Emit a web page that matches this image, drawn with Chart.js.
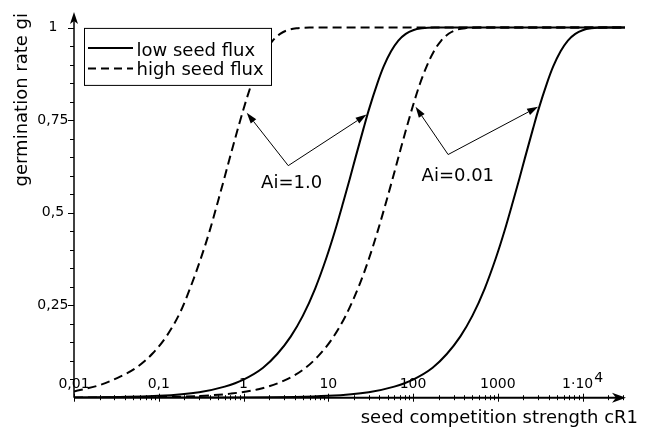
<!DOCTYPE html>
<html lang="en">
<head>
<meta charset="UTF-8">
<title>Germination rate vs seed competition strength</title>
<script src="https://cdn.jsdelivr.net/npm/chart.js"></script>
<style>
  body { margin: 0; background: #fff; }
  #wrap { width: 650px; height: 430px; }
</style>
</head>
<body>
<div id="wrap"><canvas id="germChart" width="650" height="430"></canvas></div>
<script>
// values: x = seed competition strength cR1, y = germination rate gi
const lowAi1X  = [0.01, 0.1, 0.3, 0.6, 1.0, 1.7, 2.5, 3.6, 5, 7, 9.5, 12, 15, 18, 21, 26, 30, 38, 45, 55, 67, 82, 100, 127, 180, 31623];
const lowAi1Y  = [0.0005, 0.005, 0.015, 0.03, 0.049, 0.081, 0.118, 0.165, 0.221, 0.295, 0.378, 0.451, 0.528, 0.593, 0.65, 0.727, 0.777, 0.85, 0.895, 0.936, 0.965, 0.983, 0.993, 0.998, 1.0, 1.0];

const highAi1X = [0.01, 0.02, 0.035, 0.055, 0.085, 0.125, 0.18, 0.24, 0.31, 0.40, 0.5, 0.6, 0.7, 0.85, 1.0, 1.25, 1.5, 1.8, 2.2, 2.7, 3.3, 4.2, 6, 31623];
const highAi1Y = [0.017, 0.034, 0.057, 0.082, 0.12, 0.168, 0.232, 0.302, 0.373, 0.452, 0.531, 0.597, 0.654, 0.724, 0.78, 0.85, 0.897, 0.935, 0.964, 0.983, 0.993, 0.998, 1.0, 1.0];

const lowAi001X  = [0.01, 1, 10, 30, 60, 100, 170, 250, 360, 500, 700, 950, 1200, 1500, 1800, 2100, 2600, 3000, 3800, 4500, 5500, 6700, 8200, 10000, 12700, 18000, 31623];
const lowAi001Y  = [0.0, 0.0005, 0.005, 0.015, 0.03, 0.049, 0.081, 0.118, 0.165, 0.221, 0.295, 0.378, 0.451, 0.528, 0.593, 0.65, 0.727, 0.777, 0.85, 0.895, 0.936, 0.965, 0.983, 0.993, 0.998, 1.0, 1.0];

const highAi001X = [0.01, 0.1, 0.3, 0.7, 1.5, 3, 5, 7.5, 11, 16, 23, 30, 38, 46, 56, 68, 82, 100, 120, 145, 175, 215, 265, 325, 420, 600, 31623];
const highAi001Y = [0.0002, 0.0016, 0.0047, 0.011, 0.023, 0.046, 0.075, 0.111, 0.158, 0.221, 0.302, 0.374, 0.448, 0.513, 0.583, 0.654, 0.722, 0.79, 0.847, 0.896, 0.935, 0.965, 0.984, 0.994, 0.9986, 1.0, 1.0];

const seriesLabels = ['low seed flux', 'high seed flux'];

const xTickValues = [0.01, 0.1, 1, 10, 100, 1000, 10000];
const xTickLabels = ['0,01', '0,1', '1', '10', '100', '1000', '1·10⁴'];
const yTickValues = [0.25, 0.5, 0.75, 1];
const yTickLabels = ['0,25', '0,5', '0,75', '1'];

const xTitle = 'seed competition strength cR1';
const yTitle = 'germination rate gi';

// arrows pointing at the curves, in data coordinates
const annotations = [
  { text: 'Ai=1.0',  textAt: [3.69, 0.58], from: [3.37, 0.627], tips: [[1.09, 0.77], [28.3, 0.765]] },
  { text: 'Ai=0.01', textAt: [337, 0.599], from: [259, 0.657], tips: [[107, 0.786], [2985, 0.786]] }
];

const X_MIN = 0.01, X_MAX = 31623, Y_MAX = 1.037;
const FONT = "'DejaVu Sans', sans-serif";
const SUPERS = '⁰¹²³⁴⁵⁶⁷⁸⁹';

// minor tick positions (1..9 x each decade, every 0.05 on y)
const xMarks = [];
for (let e = -2; e <= 4; e++) {
  for (let k = 1; k <= 9; k++) {
    const v = k * Math.pow(10, e);
    if (v <= X_MAX) xMarks.push({ value: v, major: k === 1 });
  }
}
const yMarks = [];
for (let i = 1; i <= 20; i++) yMarks.push({ value: i * 0.05, major: i % 5 === 0 });

function pts(xs, ys) { return xs.map((x, i) => ({ x: x, y: ys[i] })); }

function findLabel(v, values, labels) {
  for (let i = 0; i < values.length; i++) {
    if (Math.abs(v / values[i] - 1) < 1e-6) return labels[i];
  }
  return '';
}

// draws "1·10⁴" as base text plus a raised exponent, centred on cx
function drawTickLabel(ctx, label, cx, cy) {
  let base = label, sup = '';
  while (base.length && SUPERS.indexOf(base[base.length - 1]) >= 0) {
    sup = String(SUPERS.indexOf(base[base.length - 1])) + sup;
    base = base.slice(0, -1);
  }
  ctx.font = '14px ' + FONT;
  const wb = ctx.measureText(base).width;
  const ws = sup ? ctx.measureText(sup).width + 1 : 0;
  const left = cx - (wb + ws) / 2;
  ctx.textAlign = 'left'; ctx.textBaseline = 'middle';
  ctx.fillText(base, left, cy);
  if (sup) ctx.fillText(sup, left + wb + 1, cy - 6);
}

function arrowTo(ctx, x1, y1, x2, y2, len, half) {
  const a = Math.atan2(y2 - y1, x2 - x1);
  const bx = x2 - len * Math.cos(a), by = y2 - len * Math.sin(a);
  ctx.beginPath(); ctx.moveTo(x1, y1); ctx.lineTo(bx, by); ctx.stroke();
  ctx.beginPath();
  ctx.moveTo(x2, y2);
  ctx.lineTo(bx + half * Math.sin(a), by - half * Math.cos(a));
  ctx.lineTo(bx - half * Math.sin(a), by + half * Math.cos(a));
  ctx.closePath(); ctx.fill();
}

const figureDecor = {
  id: 'figureDecor',
  beforeDatasetsDraw(chart) {
    const ctx = chart.ctx, ca = chart.chartArea;
    const sx = chart.scales.x, sy = chart.scales.y;
    const x0 = ca.left, y0 = ca.bottom;
    ctx.save();
    ctx.strokeStyle = '#000'; ctx.fillStyle = '#000';

    // x axis with arrow
    ctx.lineWidth = 2;
    ctx.beginPath(); ctx.moveTo(x0, y0); ctx.lineTo(ca.right - 8, y0); ctx.stroke();
    ctx.beginPath();
    ctx.moveTo(ca.right + 1, y0);
    ctx.lineTo(ca.right - 13, y0 - 5);
    ctx.lineTo(ca.right - 9, y0);
    ctx.lineTo(ca.right - 13, y0 + 5);
    ctx.closePath(); ctx.fill();

    // y axis with arrow
    ctx.lineWidth = 1.5;
    ctx.beginPath(); ctx.moveTo(x0, y0); ctx.lineTo(x0, ca.top + 6); ctx.stroke();
    ctx.beginPath();
    ctx.moveTo(x0, ca.top - 2);
    ctx.lineTo(x0 - 4, ca.top + 10);
    ctx.lineTo(x0, ca.top + 7);
    ctx.lineTo(x0 + 4, ca.top + 10);
    ctx.closePath(); ctx.fill();

    // tick marks
    ctx.lineWidth = 1;
    xMarks.forEach(m => {
      const px = Math.round(sx.getPixelForValue(m.value)) + 0.5;
      const h = m.major ? 4 : 2.5;
      ctx.beginPath(); ctx.moveTo(px, y0 - h); ctx.lineTo(px, y0 + h); ctx.stroke();
    });
    yMarks.forEach(m => {
      const py = Math.round(sy.getPixelForValue(m.value)) + 0.5;
      const w = m.major ? 6 : 4;
      ctx.beginPath(); ctx.moveTo(x0 - w, py); ctx.lineTo(x0, py); ctx.stroke();
    });

    // x tick labels sit just above the axis, inside the plot
    xTickValues.forEach((v, i) => {
      drawTickLabel(ctx, xTickLabels[i], sx.getPixelForValue(v), y0 - 13.5);
    });
    ctx.restore();
  },
  afterDatasetsDraw(chart) {
    const ctx = chart.ctx, ca = chart.chartArea;
    const sx = chart.scales.x, sy = chart.scales.y;
    ctx.save();
    ctx.strokeStyle = '#000'; ctx.fillStyle = '#000';

    // legend box (opaque, covers the curve behind it)
    const bx = ca.left + 10.5, by = ca.top + 14.5;
    ctx.fillStyle = '#fff';
    ctx.fillRect(bx, by, 187, 57);
    ctx.fillStyle = '#000';
    ctx.lineWidth = 1;
    ctx.strokeRect(bx, by, 187, 57);
    ctx.lineWidth = 2;
    ctx.beginPath(); ctx.moveTo(bx + 3.5, by + 19.5); ctx.lineTo(bx + 48.5, by + 19.5); ctx.stroke();
    ctx.setLineDash([8, 5]);
    ctx.beginPath(); ctx.moveTo(bx + 3.5, by + 40); ctx.lineTo(bx + 48.5, by + 40); ctx.stroke();
    ctx.setLineDash([]);
    ctx.font = '18px ' + FONT;
    ctx.textAlign = 'left'; ctx.textBaseline = 'alphabetic';
    ctx.fillText(seriesLabels[0], bx + 52, by + 28);
    ctx.fillText(seriesLabels[1], bx + 52, by + 46.5);

    // annotation arrows
    ctx.lineWidth = 1;
    annotations.forEach(a => {
      const fx = sx.getPixelForValue(a.from[0]), fy = sy.getPixelForValue(a.from[1]);
      a.tips.forEach(t => {
        arrowTo(ctx, fx, fy, sx.getPixelForValue(t[0]), sy.getPixelForValue(t[1]), 11, 3.5);
      });
      ctx.textAlign = 'center'; ctx.textBaseline = 'middle';
      ctx.fillText(a.text, sx.getPixelForValue(a.textAt[0]), sy.getPixelForValue(a.textAt[1]));
    });

    // axis titles
    ctx.textAlign = 'right'; ctx.textBaseline = 'alphabetic';
    ctx.fillText(xTitle, 638, 423);
    ctx.translate(22, 13);
    ctx.rotate(-Math.PI / 2);
    ctx.textBaseline = 'middle';
    ctx.fillText(yTitle, 0, 0);
    ctx.restore();
  }
};

Chart.defaults.font.family = FONT;
Chart.defaults.color = '#000';

const solid = { borderColor: '#000', borderWidth: 2 };
const dashed = { borderColor: '#000', borderWidth: 2, borderDash: [9, 5] };

new Chart(document.getElementById('germChart'), {
  type: 'line',
  data: {
    datasets: [
      Object.assign({ label: seriesLabels[0], data: pts(lowAi1X, lowAi1Y) }, solid),
      Object.assign({ label: seriesLabels[1], data: pts(highAi1X, highAi1Y) }, dashed),
      Object.assign({ label: seriesLabels[0], data: pts(lowAi001X, lowAi001Y) }, solid),
      Object.assign({ label: seriesLabels[1], data: pts(highAi001X, highAi001Y) }, dashed)
    ]
  },
  options: {
    responsive: false,
    animation: false,
    layout: { padding: { left: 0, top: 10, right: 25, bottom: 0 } },
    elements: {
      point: { radius: 0 },
      line: { cubicInterpolationMode: 'monotone', fill: false }
    },
    plugins: { legend: { display: false }, tooltip: { enabled: false } },
    scales: {
      x: {
        type: 'logarithmic',
        min: X_MIN,
        max: X_MAX,
        grid: { display: false, drawTicks: false },
        border: { display: false },
        afterBuildTicks: s => { s.ticks = xMarks.map(m => ({ value: m.value })); },
        afterFit: s => { s.height = 32.3; },
        ticks: { display: false }
      },
      y: {
        type: 'linear',
        min: 0,
        max: Y_MAX,
        grid: { display: false, drawTicks: false },
        border: { display: false },
        afterBuildTicks: s => { s.ticks = yMarks.map(m => ({ value: m.value })); },
        afterFit: s => { s.width = 74; },
        ticks: {
          autoSkip: false,
          crossAlign: 'center',
          padding: 5.5,
          font: { size: 14 },
          callback: v => findLabel(v, yTickValues, yTickLabels)
        }
      }
    }
  },
  plugins: [figureDecor]
});
</script>
</body>
</html>
